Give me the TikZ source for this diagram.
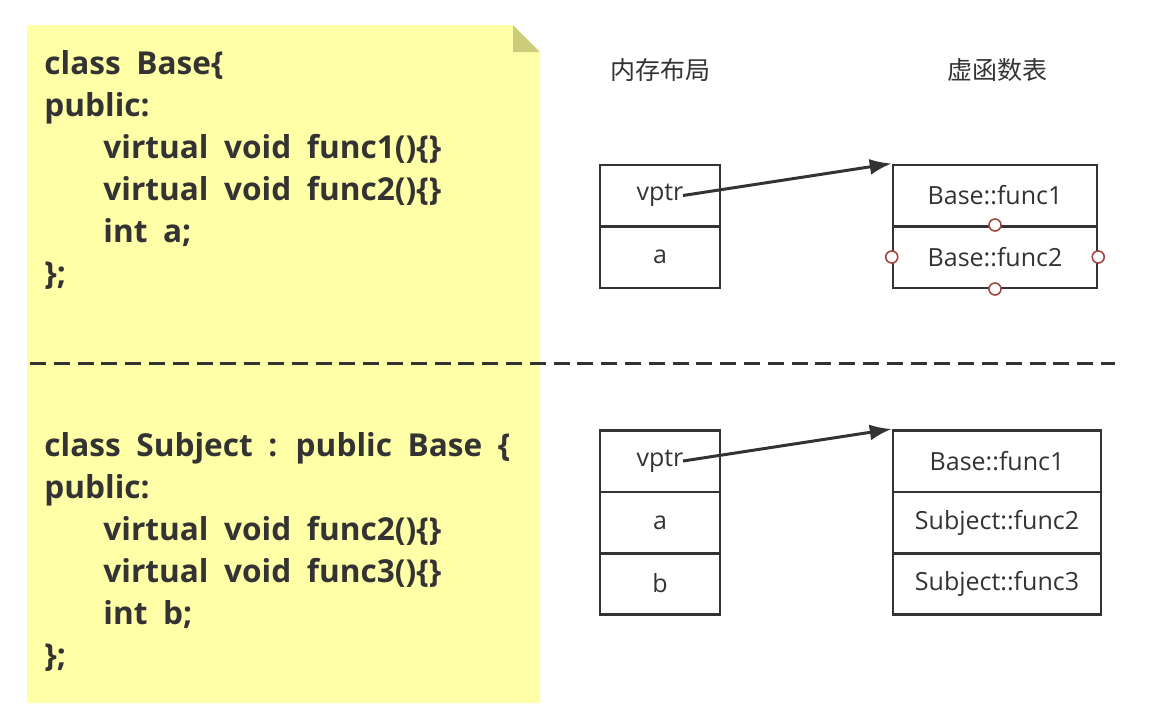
\documentclass[tikz,border=0pt]{standalone}
\usepackage{fontspec}
\setmainfont{Open Sans}
\newfontfamily\cjk{Noto Sans CJK SC}
\newfontfamily\codefont[WordSpace=1.9]{Open Sans}
\usetikzlibrary{arrows.meta}

\definecolor{notefill}{RGB}{255,255,168}
\definecolor{notefold}{RGB}{204,204,122}
\definecolor{ink}{RGB}{51,51,51}
\definecolor{portred}{RGB}{165,70,70}

\newcommand{\ind}{\hspace*{29.5pt}}

\begin{document}
\begin{tikzpicture}[
            x=0.5pt, y=-0.5pt,
            cell/.style={
                draw=ink,
                line width=1.25pt,
                rectangle,
                minimum height=30.75pt,
                inner sep=0pt,
                text=ink,
                font=\fontsize{12.5}{14}\selectfont
            },
            memcell/.style={cell, minimum width=60pt},
            vcell/.style={cell, minimum width=102pt},
            vcellwide/.style={cell, minimum width=104pt},
            code/.style={
                anchor=north west,
                align=left,
                inner sep=0pt,
                text=ink,
                font=\codefont\fontsize{15.8}{21}\selectfont\bfseries
            },
            heading/.style={text=ink, font=\fontsize{12.5}{14}\selectfont\cjk},
            port/.style={
                circle,
                draw=portred,
                fill=white,
                line width=0.8pt,
                minimum size=6pt,
                inner sep=0pt
            },
            ptr/.style={draw=ink, line width=1.5pt, -{Latex[length=11pt,width=8pt]}}
        ]

            \useasboundingbox (0,0) rectangle (1162,720);

            % sticky note
            \fill[notefill] (27,25) -- (513,25) -- (540,52) -- (540,703) -- (27,703) -- cycle;
            \fill[notefold] (513,25) -- (540,52) -- (513,52) -- cycle;

            \node[code] (basecode) at (44,50) {class Base\{\\
                public:\\
                \ind virtual void func1()\{\}\\
                \ind virtual void func2()\{\}\\
                \ind int a;\\
                \};};

            \node[code] (subjcode) at (44,432) {class Subject : public Base \{\\
                public:\\
                \ind virtual void func2()\{\}\\
                \ind virtual void func3()\{\}\\
                \ind int b;\\
                \};};

            \draw[ink, line width=1.5pt, dash pattern=on 8pt off 3.9pt] (30,363) -- (1115,363);

            \node[heading] (memhead) at (660,70) {内存布局};
            \node[heading] (vtblhead) at (997,70) {虚函数表};

            % Base
            \node[memcell] (m1v) at (660,195.5) {vptr};
            \node[memcell] (m1a) at (660,257) {a};

            \node[vcell] (t1f1) at (995,195.5) {Base::func1};
            \node[vcell] (t1f2) at (995,257) {Base::func2};

            \node[port] (p1) at (t1f2.north) {};
            \node[port] (p2) at (t1f2.west) {};
            \node[port] (p3) at (t1f2.east) {};
            \node[port] (p4) at (t1f2.south) {};

            \coordinate (m1p) at ([xshift=11.5pt]m1v.center);
            \draw[ptr] (m1p) -- (t1f1.north west);

            % Subject
            \node[memcell] (m2v) at (660,461) {vptr};
            \node[memcell] (m2a) at (660,522.5) {a};
            \node[memcell] (m2b) at (660,583.5) {b};

            \node[vcellwide] (t2f1) at (997,461) {Base::func1};
            \node[vcellwide] (t2f2) at (997,522.5) {Subject::func2};
            \node[vcellwide] (t2f3) at (997,583.5) {Subject::func3};

            \coordinate (m2p) at ([xshift=11.5pt]m2v.center);
            \draw[ptr] (m2p) -- (t2f1.north west);

        \end{tikzpicture}
\end{document}
